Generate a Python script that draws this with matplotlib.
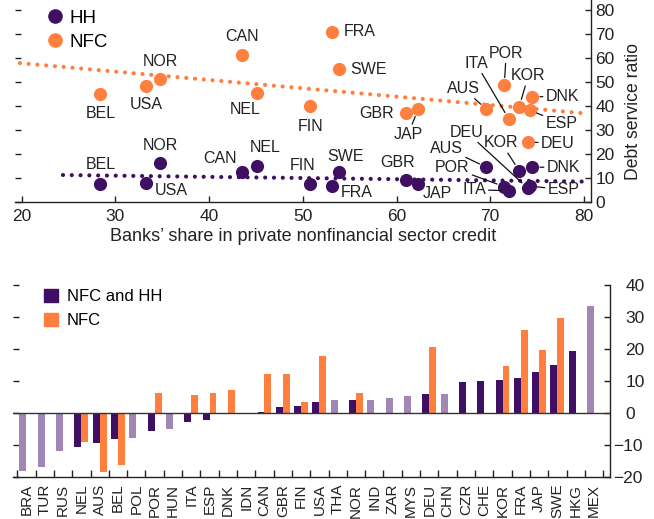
import matplotlib
matplotlib.use('Agg')
import matplotlib.pyplot as plt
from matplotlib.lines import Line2D
from matplotlib.patches import Patch
import numpy as np

plt.rcParams['font.family'] = ['Liberation Sans', 'DejaVu Sans']
plt.rcParams['axes.unicode_minus'] = True

PURPLE = '#3f0f63'
ORANGE = '#ff7f3f'
LAVENDER = '#a287b5'
TXT = '#222222'

# ---------------- top panel data ----------------
countries_top = ['BEL', 'USA', 'NOR', 'CAN', 'NEL', 'FIN', 'FRA', 'SWE', 'GBR', 'JAP',
                 'AUS', 'POR', 'ITA', 'KOR', 'ESP', 'DNK', 'DEU']
bank_share = [28.4, 33.3, 34.8, 43.5, 45.1, 50.8, 53.1, 53.9, 61.0, 62.3,
              69.6, 71.5, 72.0, 73.1, 74.2, 74.5, 74.0]
nfc_dsr = [45.0, 48.5, 51.3, 61.3, 45.5, 40.0, 71.0, 55.4, 37.0, 38.6,
           38.6, 48.7, 34.5, 39.7, 38.3, 43.9, 25.1]
hh_dsr = [7.5, 7.8, 16.1, 12.6, 15.0, 7.5, 6.7, 12.4, 9.2, 7.5,
          14.5, 6.4, 4.7, 13.0, 6.7, 14.5, 5.8]
nfc_trend_x = [19.8, 80.5]
nfc_trend_y = [57.9, 36.8]
hh_trend_x = [24.4, 80.3]
hh_trend_y = [11.25, 8.5]

# ---------------- bottom panel data ----------------
countries_bot = ['BRA', 'TUR', 'RUS', 'NEL', 'AUS', 'BEL', 'POL', 'POR', 'HUN', 'ITA',
                 'ESP', 'DNK', 'IDN', 'CAN', 'GBR', 'FIN', 'USA', 'THA', 'NOR', 'IND',
                 'ZAR', 'MYS', 'DEU', 'CHN', 'CZR', 'CHE', 'KOR', 'FRA', 'JAP', 'SWE',
                 'HKG', 'MEX']
nfc_hh_vals = [-18.3, -17.1, -11.8, -10.8, -9.3, -8.3, -8.0, -5.8, -5.2, -3.0,
               -2.1, -0.5, 0.0, 0.4, 1.9, 2.2, 3.4, 4.0, 4.0, 4.0,
               4.6, 5.2, 5.8, 5.8, 9.6, 9.9, 10.2, 10.8, 12.7, 14.9,
               19.2, 33.5]
other_group = ['BRA', 'TUR', 'RUS', 'POL', 'HUN', 'IDN', 'THA', 'IND', 'ZAR', 'MYS', 'CHN', 'MEX']
nfc_vals = [None, None, None, -9.0, -18.6, -16.3, None, 6.25, None, 5.6,
            6.25, 7.2, None, 12.2, 12.2, 3.4, 17.9, None, 6.1, None,
            None, None, 20.7, None, None, None, 14.6, 26.0, 19.8, 29.8,
            None, None]
pos_ticks = [0, 10, 20, 30, 40]
neg_ticks = [-20, -10]

fig = plt.figure(figsize=(6.54, 5.19), dpi=100)
W, H = 654.0, 519.0

# ================= TOP PANEL =================
ax1 = fig.add_axes([15 / W, 1 - 202 / H, 576 / W, 202 / H])
ax1.set_xlim(19.28, 80.76)
ax1.set_ylim(0, 84.2)
for s in ['left', 'top']:
    ax1.spines[s].set_visible(False)
for s in ['bottom', 'right']:
    ax1.spines[s].set_linewidth(1.0)
    ax1.spines[s].set_color(TXT)

ax1.plot(nfc_trend_x, nfc_trend_y, color=ORANGE, lw=3.0, linestyle=(0, (0.01, 2.1)),
         dash_capstyle='round', zorder=2, clip_on=False)
ax1.plot(hh_trend_x, hh_trend_y, color=PURPLE, lw=3.0, linestyle=(0, (0.01, 2.1)),
         dash_capstyle='round', zorder=2, clip_on=False)

ax1.scatter(bank_share, nfc_dsr, s=90, color=ORANGE, zorder=3, linewidths=0)
ax1.scatter(bank_share, hh_dsr, s=90, color=PURPLE, zorder=3, linewidths=0)

ax1.set_xticks(range(20, 81, 10))
ax1.set_yticks(range(0, 81, 10))
ax1.tick_params(axis='x', direction='in', length=4, width=1, labelsize=12.5, pad=5, colors=TXT)
ax1.tick_params(axis='y', direction='in', length=4, width=1, labelsize=12.5, pad=3,
                left=True, right=True, labelleft=False, labelright=True, colors=TXT)
ax1.set_xlabel('Banks\u2019 share in private nonfinancial sector credit', fontsize=13,
               labelpad=3, color=TXT)
ax1.yaxis.set_label_position('right')
ax1.set_ylabel('Debt service ratio', fontsize=12.7, color=TXT)
ax1.yaxis.set_label_coords(1.059, 0.446)

# labels: name -> (dx, dy, ha, leader line)
nfc_labels = {
    'BEL': (0, -19, 'center', False), 'USA': (0, -19, 'center', False),
    'NOR': (0, 17, 'center', False), 'CAN': (0, 18, 'center', False),
    'NEL': (-12, -17, 'center', False), 'FIN': (0, -20, 'center', False),
    'FRA': (12, 0, 'left', False), 'SWE': (11, 0, 'left', False),
    'GBR': (-12, 0, 'right', False), 'JAP': (-10, -25, 'center', True),
    'AUS': (-23, 21, 'center', True), 'ITA': (-33, 56, 'center', True),
    'POR': (2, 32, 'center', True), 'KOR': (9, 31, 'center', True),
    'DNK': (30, 0, 'center', True), 'ESP': (32, -13, 'center', True),
    'DEU': (30, -2, 'center', True),
}
hh_labels = {
    'BEL': (0, 20, 'center', False), 'USA': (25, -7, 'center', False),
    'NOR': (0, 18, 'center', False), 'CAN': (-22, 13, 'center', False),
    'NEL': (8, 19, 'center', False), 'FIN': (-8, 19, 'center', False),
    'FRA': (25, -7, 'center', False), 'SWE': (6, 16, 'center', False),
    'GBR': (-8, 17, 'center', False), 'JAP': (19, -9, 'center', False),
    'AUS': (-40, 19, 'center', True), 'POR': (-52, 19, 'center', True),
    'ITA': (-35, 1, 'center', True), 'DEU': (-61, 56, 'center', True),
    'KOR': (-18, 28, 'center', True), 'DNK': (31, 0, 'center', True),
    'ESP': (34, -4, 'center', True),
}


def put_labels(yvals, labels):
    for name, (dx, dy, ha, line) in labels.items():
        i = countries_top.index(name)
        kw = {}
        if line:
            kw['arrowprops'] = dict(arrowstyle='-', color='#111111', lw=0.9,
                                    shrinkA=0, shrinkB=5.5)
        ax1.annotate(name, (bank_share[i], yvals[i]), xytext=(dx, dy),
                     textcoords='offset pixels', ha=ha, va='center',
                     fontsize=11.5, color=TXT, zorder=4, **kw)


put_labels(nfc_dsr, nfc_labels)
put_labels(hh_dsr, hh_labels)

h1 = [Line2D([], [], marker='o', ls='none', color=PURPLE, markersize=9.5),
      Line2D([], [], marker='o', ls='none', color=ORANGE, markersize=9.5)]
ax1.legend(h1, ['HH', 'NFC'], loc='upper left', bbox_to_anchor=(45.5 / W, 1 - 9.5 / H),
           bbox_transform=fig.transFigure, frameon=False, fontsize=13.5,
           handlelength=1.0, handletextpad=0.3, labelspacing=0.36,
           borderaxespad=0, borderpad=0)

# ================= BOTTOM PANEL =================
ax2 = fig.add_axes([12.7 / W, 1 - 476.7 / H, (610 - 12.7) / W, (476.7 - 285) / H])
ax2.set_xlim(-0.75, 31.87)
ax2.set_ylim(-20, 40)
for s in ['left', 'top']:
    ax2.spines[s].set_visible(False)
for s in ['bottom', 'right']:
    ax2.spines[s].set_linewidth(1.0)
    ax2.spines[s].set_color(TXT)

xpos = np.arange(len(countries_bot))
bw = 0.38
for i, c in enumerate(countries_bot):
    col = LAVENDER if c in other_group else PURPLE
    ax2.bar(xpos[i] - bw / 2, nfc_hh_vals[i], width=bw, color=col, zorder=2)
    if nfc_vals[i] is not None:
        ax2.bar(xpos[i] + bw / 2, nfc_vals[i], width=bw, color=ORANGE, zorder=2)
ax2.axhline(0, color='#333333', lw=1.0, zorder=3)

ax2.set_xticks(np.arange(-0.5, 31.6, 1.0))
ax2.set_xticks(xpos, minor=True)
ax2.set_xticklabels([])
ax2.set_xticklabels(countries_bot, minor=True, rotation=90, fontsize=11)
ax2.tick_params(axis='x', which='major', direction='in', length=5, width=1, colors=TXT)
ax2.tick_params(axis='x', which='minor', length=0, pad=5, colors=TXT)

ax2.set_yticks(pos_ticks)
ax2.set_yticklabels([str(v) for v in pos_ticks])
ax2.set_yticks(neg_ticks, minor=True)
ax2.set_yticklabels(['\u2212' + str(-v) for v in neg_ticks], minor=True)
ax2.tick_params(axis='y', which='major', direction='in', length=4, width=1, labelsize=12.5,
                pad=11, left=True, right=True, labelleft=False, labelright=True, colors=TXT)
ax2.tick_params(axis='y', which='minor', direction='in', length=4, width=1, labelsize=12.5,
                pad=2, left=True, right=True, labelleft=False, labelright=True, colors=TXT)

h2 = [Patch(color=PURPLE), Patch(color=ORANGE)]
ax2.legend(h2, ['NFC and HH', 'NFC'], loc='upper left', bbox_to_anchor=(44 / W, 1 - 289 / H),
           bbox_transform=fig.transFigure, frameon=False, fontsize=12,
           handlelength=0.84, handleheight=0.8, handletextpad=0.52, labelspacing=0.54,
           borderaxespad=0, borderpad=0)

fig.savefig('out.png', dpi=100)
